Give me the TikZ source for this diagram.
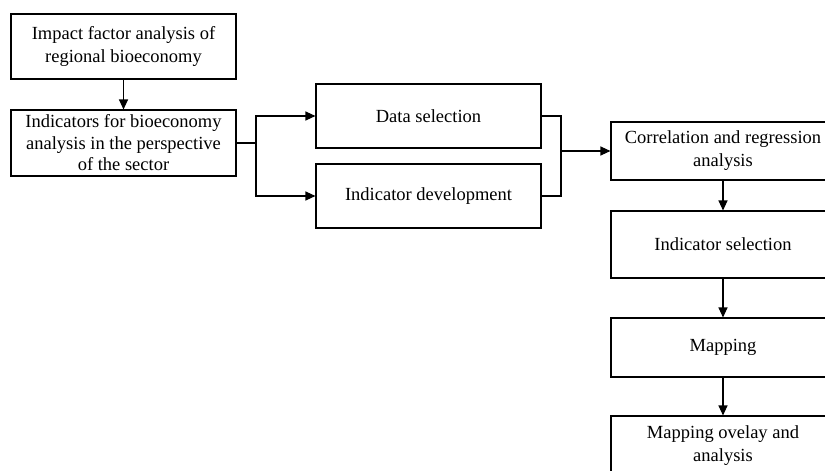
\documentclass[tikz,border=0pt]{standalone}
\usepackage{fontspec}
\setmainfont{Liberation Serif}
\usetikzlibrary{arrows.meta,positioning,calc}

\tikzset{
  box/.style={draw, line width=1.1pt, align=center, inner sep=1pt,
    minimum width=225pt, font=\fontsize{18.5}{23}\selectfont},
  link/.style={line width=1.1pt},
  arr/.style={line width=1.1pt, -{Triangle[length=10pt,width=9pt]}}
}

\begin{document}
\begin{tikzpicture}[x=1pt,y=-1pt]
    \useasboundingbox (0,0) rectangle (825,471);

    % Left column
    \node[box, minimum height=65pt] (impact) at (123.5,46.5) {Impact factor analysis of\\regional bioeconomy};
    \node[box, minimum height=66pt, inner sep=0pt, font=\fontsize{18.5}{21.5}\selectfont] (indic) at (123.5,143) {Indicators for bioeconomy\\analysis in the perspective\\of the sector};

    % Middle column
    \node[box, minimum height=64pt] (data) at (428.5,116) {Data selection};
    \node[box, minimum height=64pt] (devel) at (428.5,196) {Indicator development};

    % Right column
    \node[box, minimum width=224pt, minimum height=58pt] (corr) at (723,151) {Correlation and regression\\analysis};
    \node[box, minimum width=224pt, minimum height=67pt] (select) at (723,244.5) {Indicator selection};
    \node[box, minimum width=224pt, minimum height=59pt] (mapping) at (723,347.5) {Mapping};
    \node[box, minimum width=224pt, minimum height=60pt] (overlay) at (723,446) {Mapping ovelay and\\analysis};

    \coordinate (split) at (256,143);
    \coordinate (merge) at (561,151);

    % Connectors
    \draw[arr] (impact) -- (indic);
    \draw[link] (indic.east) -- (split);
    \draw[arr] (split) |- (data.west);
    \draw[arr] (split) |- (devel.west);
    \draw[link] (data.east) -| (merge);
    \draw[link] (devel.east) -| (merge);
    \draw[arr] (merge) -- (corr.west);
    \draw[arr] (corr) -- (select);
    \draw[arr] (select) -- (mapping);
    \draw[arr] (mapping) -- (overlay);
\end{tikzpicture}
\end{document}
